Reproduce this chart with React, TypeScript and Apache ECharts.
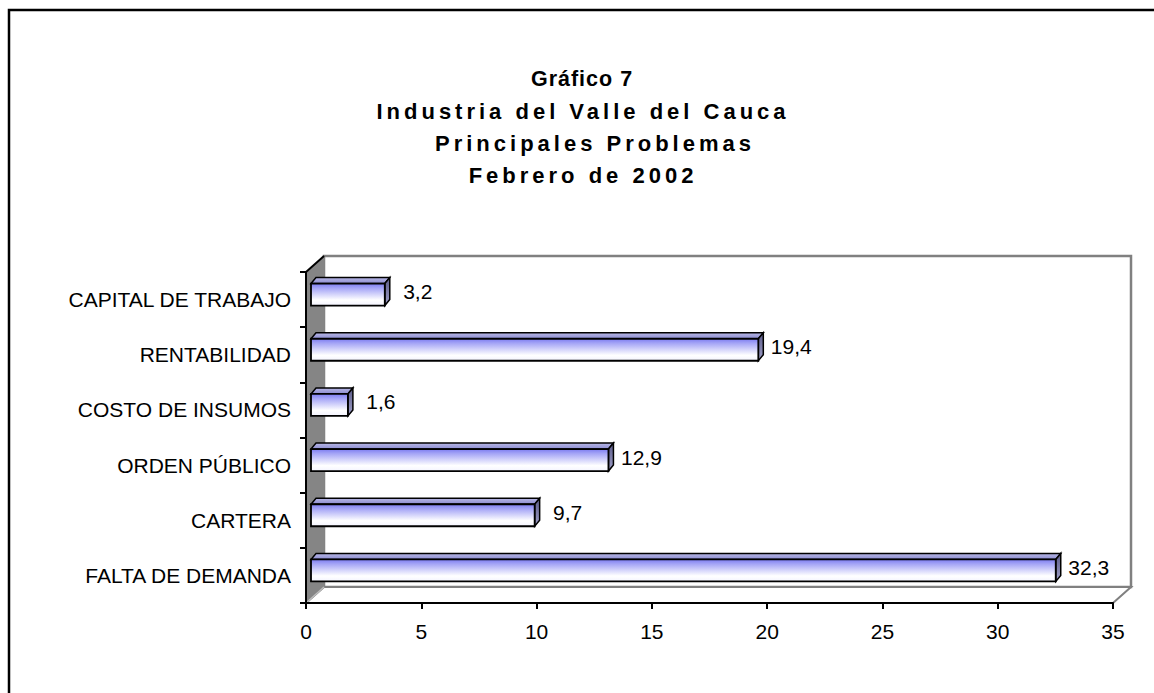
import React, { useEffect, useRef } from "react";
import * as echarts from "echarts";

const categories = [
  "FALTA DE DEMANDA",
  "CARTERA",
  "ORDEN PÚBLICO",
  "COSTO DE INSUMOS",
  "RENTABILIDAD",
  "CAPITAL DE TRABAJO",
];
const values = [32.3, 9.7, 12.9, 1.6, 19.4, 3.2];
const titleLines = [
  "Gráfico 7",
  "Industria del Valle del Cauca",
  "Principales Problemas",
  "Febrero de 2002",
];
const xMin = 0;
const xMax = 35;
const xInterval = 5;

const FONT = "'Liberation Sans', Arial, sans-serif";
const DEPTH_X = 18;
const DEPTH_Y = -16;

const titleCenters = [581, 581, 593, 581];
const titleSizes = [21.5, 22, 22, 22];

export default function App() {
  const ref = useRef<HTMLDivElement>(null);

  useEffect(() => {
    if (!ref.current) return;
    const chart = echarts.init(ref.current, null, { renderer: "svg" });

    const wallsRender = (params: any) => {
      const cs = params.coordSys;
      const x = cs.x, y = cs.y, w = cs.width, h = cs.height;
      return {
        type: "group",
        children: [
          {
            type: "rect",
            shape: { x: x + DEPTH_X, y: y + DEPTH_Y, width: w, height: h },
            style: { fill: "#ffffff", stroke: "#808080", lineWidth: 2.5 },
          },
          {
            type: "polygon",
            shape: {
              points: [
                [x, y + h],
                [x + w, y + h],
                [x + w + DEPTH_X, y + h + DEPTH_Y],
                [x + DEPTH_X, y + h + DEPTH_Y],
              ],
            },
            style: { fill: "#ffffff", stroke: "#808080", lineWidth: 2 },
          },
          {
            type: "polygon",
            shape: {
              points: [
                [x, y],
                [x + DEPTH_X, y + DEPTH_Y],
                [x + DEPTH_X, y + h + DEPTH_Y],
                [x, y + h],
              ],
            },
            style: { fill: "#858585", stroke: "#858585", lineWidth: 1 },
          },
          {
            type: "line",
            shape: { x1: x, y1: y, x2: x + DEPTH_X, y2: y + DEPTH_Y },
            style: { stroke: "#000000", lineWidth: 2 },
          },
          {
            type: "line",
            shape: { x1: x, y1: y + h, x2: x + DEPTH_X, y2: y + h + DEPTH_Y },
            style: { stroke: "#bdbdbd", lineWidth: 1.5 },
          },
        ],
      };
    };

    const barRender = (params: any, api: any) => {
      const v = api.value(0);
      const c = api.value(1);
      const start = api.coord([0, c]);
      const end = api.coord([v, c]);
      const fx = 5, fy = -5, dx = 5, dy = -6, half = 11;
      const x1 = start[0] + fx;
      const x2 = end[0] + fx;
      const yc = start[1] + fy;
      const yt = yc - half;
      const yb = yc + half;
      const label = String(v).replace(".", ",");
      return {
        type: "group",
        children: [
          {
            type: "polygon",
            shape: {
              points: [
                [x1, yt],
                [x2, yt],
                [x2 + dx, yt + dy],
                [x1 + dx, yt + dy],
              ],
            },
            style: {
              fill: new echarts.graphic.LinearGradient(0, 0, 0, 1, [
                { offset: 0, color: "#b8b8e6" },
                { offset: 1, color: "#8c8cd0" },
              ]),
              stroke: "#000000",
              lineWidth: 1.5,
            },
          },
          {
            type: "polygon",
            shape: {
              points: [
                [x2, yt],
                [x2 + dx, yt + dy],
                [x2 + dx, yb + dy],
                [x2, yb],
              ],
            },
            style: {
              fill: new echarts.graphic.LinearGradient(0, 0, 0, 1, [
                { offset: 0, color: "#5a5a88" },
                { offset: 1, color: "#a0a0c8" },
              ]),
              stroke: "#000000",
              lineWidth: 1.5,
            },
          },
          {
            type: "rect",
            shape: { x: x1, y: yt, width: x2 - x1, height: yb - yt },
            style: {
              fill: new echarts.graphic.LinearGradient(0, 0, 0, 1, [
                { offset: 0, color: "#7c7cf0" },
                { offset: 0.2, color: "#a4a4f6" },
                { offset: 0.75, color: "#ffffff" },
                { offset: 1, color: "#f4f4ff" },
              ]),
              stroke: "#000000",
              lineWidth: 1.8,
            },
          },
          {
            type: "text",
            style: {
              text: label,
              x: x2 + 33,
              y: yc - 3,
              textAlign: "center",
              textVerticalAlign: "middle",
              font: `21px ${FONT}`,
              fill: "#000000",
            },
          },
        ],
      };
    };

    chart.setOption({
      animation: false,
      backgroundColor: "#ffffff",
      title: titleLines.map((t, i) => ({
        text: t,
        left: titleCenters[i] + (i === 0 ? 1 : 2),
        top: 68 + i * 32,
        padding: 0,
        textAlign: "center",
        textStyle: {
          fontFamily: FONT,
          fontWeight: "bold",
          fontSize: titleSizes[i],
          lineHeight: 22,
          color: "#000000",
        },
      })),
      graphic: [
        {
          type: "rect",
          shape: { x: 9, y: 10, width: 1300, height: 900 },
          style: { fill: "none", stroke: "#000000", lineWidth: 2.5 },
          silent: true,
          z: 100,
        },
      ],
      grid: { left: 306, top: 272, right: 41, bottom: 90, containLabel: false },
      xAxis: {
        type: "value",
        min: xMin,
        max: xMax,
        interval: xInterval,
        z: 10,
        axisLine: { show: true, lineStyle: { color: "#000000", width: 2 } },
        axisTick: { show: true, length: 6, lineStyle: { color: "#000000", width: 2 } },
        splitLine: { show: false },
        axisLabel: {
          margin: 18,
          fontFamily: FONT,
          fontSize: 21,
          color: "#000000",
        },
      },
      yAxis: {
        type: "category",
        data: categories,
        z: 10,
        axisLine: { show: true, lineStyle: { color: "#000000", width: 2 } },
        axisTick: { show: true, length: 6, lineStyle: { color: "#000000", width: 2 } },
        axisLabel: {
          margin: 15,
          fontFamily: FONT,
          fontSize: 21,
          color: "#000000",
        },
        splitLine: { show: false },
      },
      series: [
        {
          type: "custom",
          name: "walls",
          z: 1,
          silent: true,
          renderItem: wallsRender,
          encode: { x: 0, y: 1 },
          data: [[0, 0]],
        },
        {
          type: "custom",
          name: "problemas",
          z: 2,
          renderItem: barRender,
          encode: { x: 0, y: 1 },
          data: values.map((v, i) => [v, i]),
        },
      ],
    });

    return () => chart.dispose();
  }, []);

  return (
    <>
      <style>{`#chartbox svg text[style*="bold"][style*="22px"]{letter-spacing:4px;} #chartbox svg text[style*="bold"][style*="21.5px"]{letter-spacing:1px;}`}</style>
      <div
        id="chartbox"
        ref={ref}
        style={{ position: "fixed", left: 0, top: 0, width: 1154, height: 693, background: "#fff" }}
      />
    </>
  );
}
